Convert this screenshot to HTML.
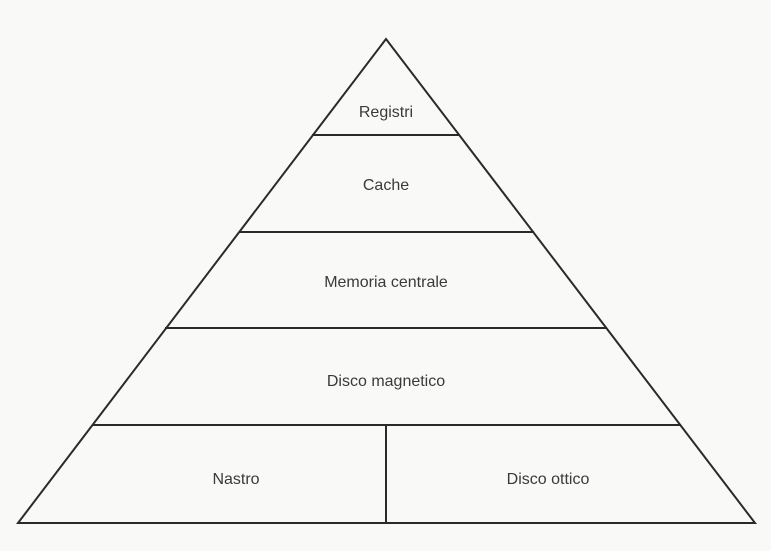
<!DOCTYPE html>
<html><head><style>
html,body{margin:0;padding:0;background:#f9f9f7;}
svg{display:block;}
text{font-family:"Liberation Sans",sans-serif;font-size:16px;fill:#3a3a3a;text-anchor:middle;}
</style></head><body>
<svg width="771" height="551" viewBox="0 0 771 551" xmlns="http://www.w3.org/2000/svg">
<rect width="771" height="551" fill="#f9f9f7"/>
<g stroke="#2a2a2a" stroke-width="2" fill="none">
<polygon points="386,39 18,523 755,523"/>
<line x1="312" y1="135" x2="460" y2="135"/>
<line x1="239" y1="232" x2="534" y2="232"/>
<line x1="165" y1="328" x2="607" y2="328"/>
<line x1="92" y1="425" x2="681" y2="425"/>
<line x1="386" y1="425" x2="386" y2="523"/>
</g>
<text x="386" y="117">Registri</text>
<text x="386" y="190">Cache</text>
<text x="386" y="287">Memoria centrale</text>
<text x="386" y="386">Disco magnetico</text>
<text x="236" y="484">Nastro</text>
<text x="548" y="484">Disco ottico</text>
</svg>
</body></html>
